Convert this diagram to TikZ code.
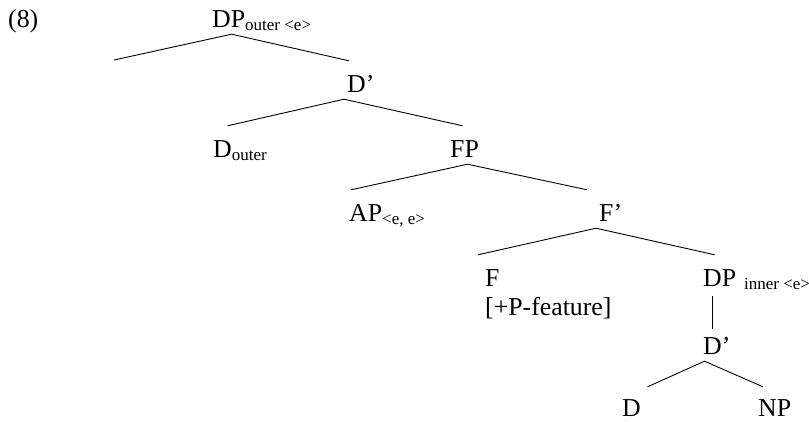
\documentclass[tikz,border=0pt]{standalone}
\usepackage{fontspec}
\setmainfont{Liberation Serif}
\usetikzlibrary{positioning}

\newcommand{\lowsub}[1]{\raisebox{-3pt}{\fontsize{17}{20}\selectfont #1}}

\begin{document}
\begin{tikzpicture}[x=1pt, y=-1pt,
    cat/.style={font=\fontsize{25.8}{31}\selectfont, inner sep=0pt,
                text height=31pt, text depth=7pt, anchor=base west},
    branch/.style={line width=0.9pt}]
    \useasboundingbox (0,0) rectangle (809,421);

    % Example number
    \node[cat] (num) at (8,27) {(8)};

    % Tree labels
    \node[cat] (dpo) at (212,27) {DP\rlap{\lowsub{outer <e>}}};
    \coordinate (dpoL) at (114,60);
    \node[cat] (dbar1) at (347,92) {D\rlap{’}};
    \node[cat] (douter) at (213,157) {D\rlap{\lowsub{outer}}};
    \node[cat] (fp) at (450,157) {FP};
    \node[cat] (ap) at (349,221) {AP\rlap{\lowsub{<e, e>}}};
    \node[cat] (fbar) at (599,221) {F\rlap{’}};
    \node[cat] (f) at (485,286) {F};
    \node[cat] (fval) at (485,315) {[+P-feature]};
    \node[cat] (dpi) at (703,286) {DP\rlap{\hspace{8pt}\lowsub{inner <e>}}};
    \node[cat] (dbar2) at (703,354) {D\rlap{’}};
    \node[cat, text depth=0pt] (d) at (622,416.5) {D};
    \node[cat, text depth=0pt] (np) at (758,416.5) {NP};

    % Branches
    \draw[branch] (dpoL) -- ([xshift=3pt]dpo.south) -- ([xshift=2pt]dbar1.north west);
    \draw[branch] ([xshift=5pt]douter.north) -- ([xshift=-3pt]dbar1.south west) -- ([xshift=-2pt]fp.north);
    \draw[branch] ([xshift=2pt]ap.north west) -- ([xshift=3pt]fp.south) -- ([xshift=-12pt]fbar.north west);
    \draw[branch] ([xshift=-7pt]f.north west) -- ([xshift=-3pt]fbar.south west) -- ([xshift=-5pt]dpi.north);
    \draw[branch] ([yshift=-3pt]dpi.south -| dbar2.north) -- ([yshift=-6pt]dbar2.north);
    \draw[branch] ([xshift=16pt,yshift=-1.5pt]d.north) -- ([xshift=-8pt]dbar2.south) -- ([xshift=5pt,yshift=-1.5pt]np.north west);
\end{tikzpicture}
\end{document}
